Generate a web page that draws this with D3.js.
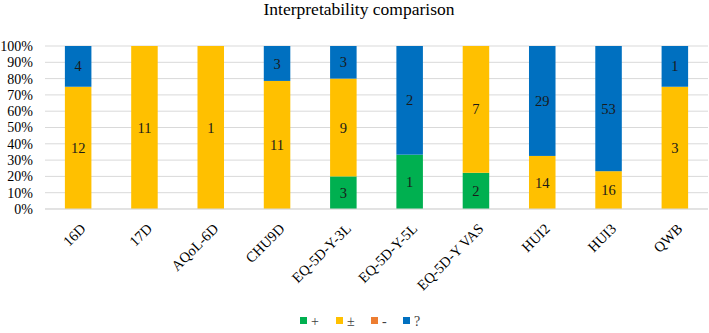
<!DOCTYPE html>
<html>
<head>
<meta charset="utf-8">
<script src="https://cdn.jsdelivr.net/npm/d3@7/dist/d3.min.js"></script>
<style>
  body { margin: 0; background: #fff; }
  text { font-family: "Liberation Serif", "Times New Roman", serif; fill: #000; }
</style>
</head>
<body>
<svg id="chart" width="709" height="333"></svg>
<script>
// categories and counts per rating
const categories = ['16D', '17D', 'AQoL-6D', 'CHU9D', 'EQ-5D-Y-3L', 'EQ-5D-Y-5L', 'EQ-5D-Y VAS', 'HUI2', 'HUI3', 'QWB'];
const plusVals    = [0, 0, 0, 0, 3, 1, 2, 0, 0, 0];
const pmVals      = [12, 11, 1, 11, 9, 0, 7, 14, 16, 3];
const minusVals   = [0, 0, 0, 0, 0, 0, 0, 0, 0, 0];
const questVals   = [4, 0, 0, 3, 3, 2, 0, 29, 53, 1];
const seriesNames = ['+', '±', '-', '?'];
const seriesColors = ['#00B050', '#FFC000', '#ED7D31', '#0070C0'];
const yTicks = [0, 0.1, 0.2, 0.3, 0.4, 0.5, 0.6, 0.7, 0.8, 0.9, 1];

const svg = d3.select('#chart');
const margin = { left: 45, right: 1, top: 46, bottom: 124 };
const W = 709, H = 333;

const rows = categories.map((c, i) => {
  const total = plusVals[i] + pmVals[i] + minusVals[i] + questVals[i];
  return { cat: c, '+': plusVals[i], '±': pmVals[i], '-': minusVals[i], '?': questVals[i], total };
});

const stack = d3.stack().keys(seriesNames)
  .value((d, k) => d[k] / d.total);
const layers = stack(rows);

const x = d3.scaleBand().domain(categories)
  .range([margin.left, W - margin.right])
  .paddingInner(0.6).paddingOuter(0.3);
const y = d3.scaleLinear().domain([0, 1]).range([H - margin.bottom, margin.top]);

// title
svg.append('text')
  .attr('x', 359).attr('y', 15)
  .attr('text-anchor', 'middle')
  .style('font-size', '17.5px')
  .text('Interpretability comparison');

// grid lines
svg.append('g').selectAll('line')
  .data(yTicks)
  .enter().append('line')
  .attr('x1', margin.left).attr('x2', W - margin.right)
  .attr('y1', d => y(d)).attr('y2', d => y(d))
  .attr('stroke', '#d9d9d9').attr('stroke-width', 1);

// y axis labels
const yAxis = svg.append('g')
  .attr('transform', `translate(${margin.left - 12},0)`)
  .call(d3.axisLeft(y).tickValues(yTicks).tickFormat(d3.format('.0%')).tickSize(0).tickPadding(0));
yAxis.select('.domain').remove();
yAxis.selectAll('text').style('font-size', '14px').style('font-family', '"Liberation Serif", serif').attr('fill', '#000');

// bars
const groups = svg.append('g').selectAll('g')
  .data(layers)
  .enter().append('g')
  .attr('fill', (d, i) => seriesColors[i]);

groups.selectAll('rect')
  .data(d => d.map(p => ({ p, key: d.key })))
  .enter().append('rect')
  .attr('x', d => x(d.p.data.cat))
  .attr('width', x.bandwidth())
  .attr('y', d => y(d.p[1]))
  .attr('height', d => y(d.p[0]) - y(d.p[1]));

// segment labels
groups.selectAll('text')
  .data(d => d.map(p => ({ p, key: d.key })).filter(d => d.p.data[d.key] > 0))
  .enter().append('text')
  .attr('x', d => x(d.p.data.cat) + x.bandwidth() / 2)
  .attr('y', d => (y(d.p[0]) + y(d.p[1])) / 2)
  .attr('dy', '0.35em')
  .attr('text-anchor', 'middle')
  .style('font-size', '14.5px')
  .style('fill', '#1a1a1a')
  .text(d => d.p.data[d.key]);

// x axis line
svg.append('line')
  .attr('x1', margin.left).attr('x2', W - margin.right)
  .attr('y1', y(0)).attr('y2', y(0))
  .attr('stroke', '#d9d9d9');

// x labels rotated
svg.append('g').selectAll('text')
  .data(categories)
  .enter().append('text')
  .attr('transform', d => `translate(${x(d) + x.bandwidth() / 2 + 5},${y(0) + 17}) rotate(-45)`)
  .attr('text-anchor', 'end')
  .attr('dy', '0.35em')
  .style('font-size', '14.5px')
  .text(d => d);

// legend
const legendX = [300, 336, 371, 403];
const legend = svg.append('g').selectAll('g')
  .data(seriesNames)
  .enter().append('g')
  .attr('transform', (d, i) => `translate(${legendX[i]},317)`);
legend.append('rect')
  .attr('width', 7).attr('height', 7)
  .attr('fill', (d, i) => seriesColors[i]);
legend.append('text')
  .attr('x', 11).attr('y', 4).attr('dy', '0.35em')
  .style('font-size', '14px')
  .style('fill', '#404040')
  .text(d => d);
</script>
</body>
</html>
